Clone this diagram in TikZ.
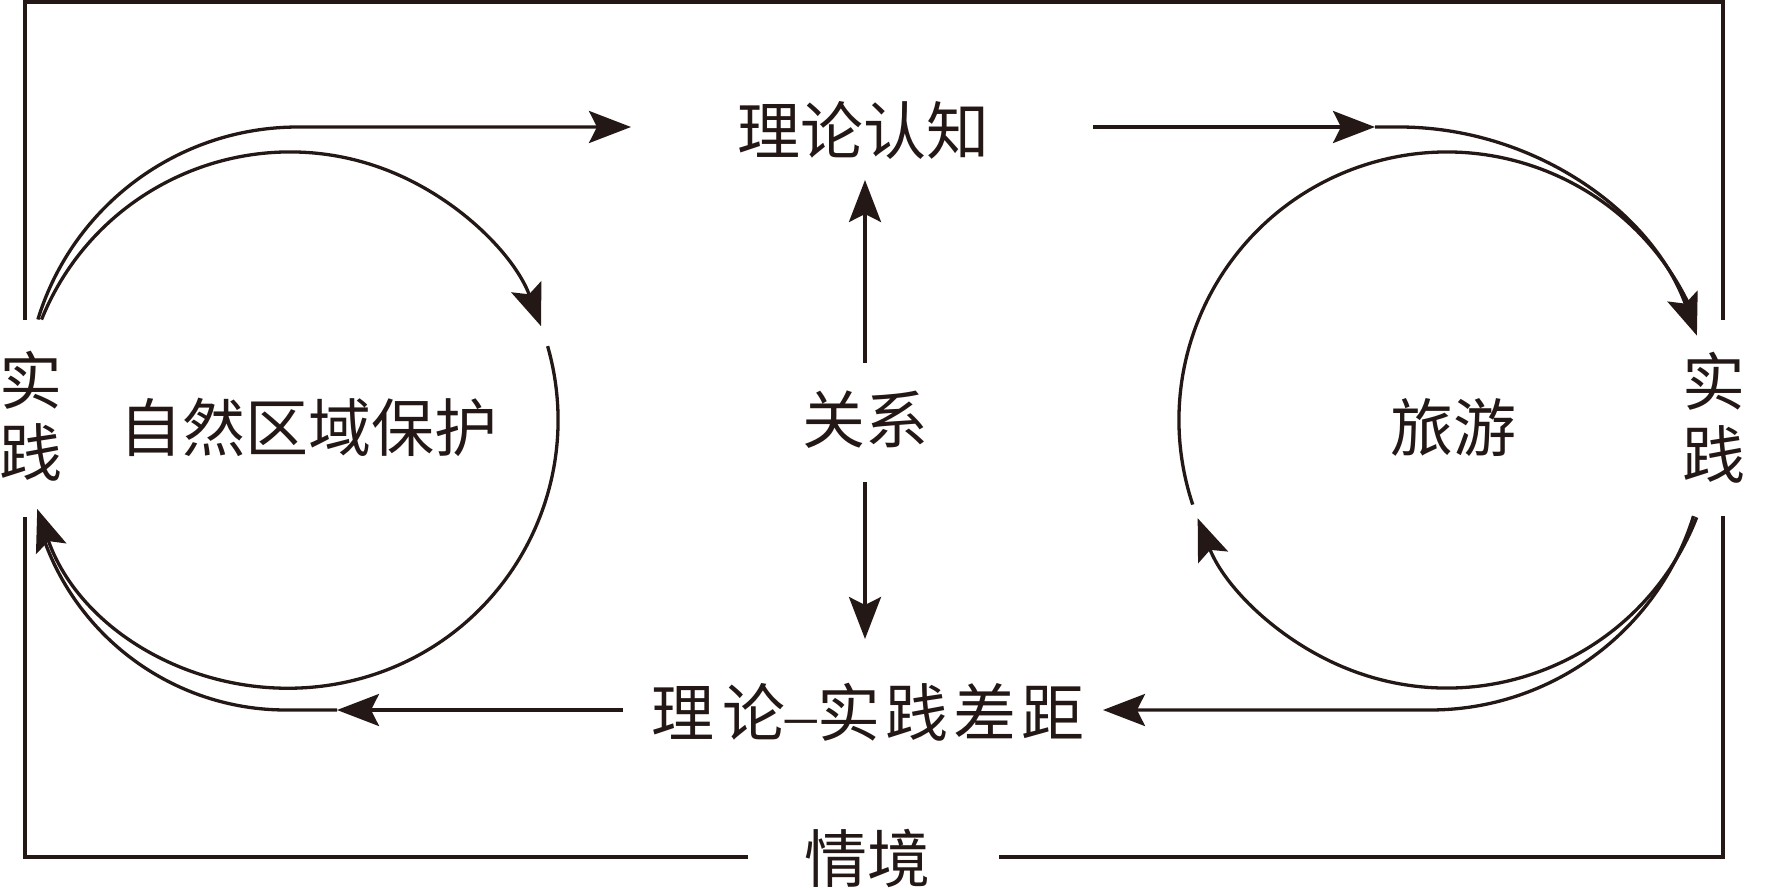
\documentclass[tikz,border=0pt]{standalone}
\usepackage{fontspec}
\newfontfamily\cjk{Noto Sans CJK SC}
\newfontfamily\latin{Liberation Serif}
\usetikzlibrary{arrows.meta,calc}
\definecolor{ink}{HTML}{231815}
\begin{document}
\begin{tikzpicture}[x=1pt,y=1pt,
  ln/.style={line width=3.3pt,draw=ink},
  arr/.style={ln,-{Stealth[length=42pt,width=32pt,inset=8pt]}},
  lbl/.style={font=\cjk\fontsize{63}{72}\selectfont,text=ink,inner sep=0pt,text height=54pt,text depth=6pt}]
\useasboundingbox (0,0) rectangle (1783,-888);

% labels
\node[lbl] (lilun)  at (863,-130) {理论认知};
\node[lbl] (guanxi) at (865,-419) {关系};
\node[lbl] (gap)    at (868,-712) {理\hspace{8pt}论{\latin –}实\hspace{5pt}践\hspace{5pt}差\hspace{5pt}距};
\node[lbl] (qj)     at (867,-858) {情境};
\node[lbl] (zr)     at (308,-427) {自然区域保护};
\node[lbl] (ly)     at (1453,-427) {旅游};
\node[lbl] (lshi)   at (31,-380) {实};
\node[lbl] (ljian)  at (31,-452) {践};
\node[lbl] (rshi)   at (1714,-381) {实};
\node[lbl] (rjian)  at (1714,-454) {践};

% frame (context)
\draw[ln] (25,-320) -- (25,-2) -- (1723,-2) -- (1723,-320);
\draw[ln] (25,-517) -- (25,-857) -- ([xshift=-56pt]qj.west |- 0,-857);
\draw[ln] ([xshift=69pt]qj.east |- 0,-857) -- (1723,-857) -- (1723,-516);

% circle centres and junction points
\coordinate (C1) at (290,-420);
\coordinate (C2) at (1447,-420);
\coordinate (Lo) at ($(298,-399)+(163:272)$);
\coordinate (TLtip) at (631,-127);
\coordinate (TRs) at (1093,-127);
\coordinate (TRmid) at (1375,-127);
\coordinate (BRs) at ($(1430,-434)+(-17.3:276)$);
\coordinate (BRtip) at (1103,-710);
\coordinate (BLs) at (623,-710);
\coordinate (BLmid) at (337,-710);

% inner circles
\draw[arr] ($(C1)+(158:268)$) arc[start angle=158,end angle=20.5,radius=268];
\draw[arr] ($(C1)+(16:268)$) arc[start angle=16,end angle=-160.6,radius=268];
\draw[ln] ($(C2)+(198.4:268)$) arc[start angle=198.4,end angle=22,radius=268];
\draw[arr] ($(C2)+(-21.3:268)$) arc[start angle=-21.3,end angle=-158.5,radius=268];

% outer connectors
\draw[arr] (Lo) arc[start angle=163,end angle=90,radius=272] -- (TLtip);
\draw[arr] (TRs) -- (TRmid);
\draw[arr] (TRmid) -- (1399,-127) arc[start angle=90,end angle=20,radius=317];
\draw[arr] (BRs) arc[start angle=-17.3,end angle=-90,radius=276] -- (BRtip);
\draw[arr] (BLs) -- (BLmid);
\draw[ln] (BLmid) -- (286,-710) arc[start angle=270,end angle=197,radius=257];

% relation arrows
\draw[arr] ([yshift=26pt]guanxi.north) -- (guanxi.north |- 0,-180);
\draw[arr] ([yshift=-33pt]guanxi.south) -- (guanxi.south |- 0,-639);
\end{tikzpicture}
\end{document}
